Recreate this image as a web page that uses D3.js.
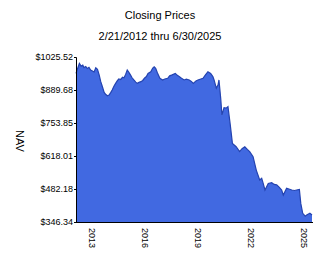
<!DOCTYPE html>
<html>
<head>
<meta charset="utf-8">
<title>Closing Prices</title>
<script src="https://cdn.jsdelivr.net/npm/d3@7"></script>
<style>
	body, html { margin: 0; padding: 0; background: #fff; }
	svg text { font-family: "Liberation Sans", Arial, sans-serif; fill: #000; }
</style>
</head>
<body>
<svg id="chart" width="324" height="267"></svg>
<script>

	var titleText = "Closing Prices",
		subtitleText = "2/21/2012 thru 6/30/2025",
		yLabel = "NAV";

	var yTicks = [346.34, 482.18, 618.01, 753.85, 889.68, 1025.52];
	var xTickYears = [2013, 2016, 2019, 2022, 2025];

	// closing prices
	var dates = [
		"2012-02-21","2012-03-15","2012-05-01","2012-06-05","2012-07-10","2012-08-05","2012-09-10","2012-10-12",
		"2012-11-15","2012-12-20","2013-01-25","2013-03-01","2013-04-05","2013-05-10","2013-06-15","2013-07-15",
		"2013-08-20","2013-09-25","2013-10-25","2013-12-01","2014-01-05","2014-02-10","2014-03-10","2014-04-15",
		"2014-05-20","2014-06-25","2014-07-25","2014-09-01","2014-10-10","2014-11-10","2014-12-15","2015-01-15",
		"2015-02-15","2015-03-25","2015-04-25","2015-06-01","2015-07-10","2015-08-10","2015-09-15","2015-10-25",
		"2015-12-01","2016-01-05","2016-02-15","2016-03-20","2016-05-15","2016-06-25","2016-07-25","2016-08-25",
		"2016-10-01","2016-11-20","2017-01-15","2017-03-01","2017-04-30","2017-06-10","2017-08-01","2017-10-05",
		"2017-11-15","2017-12-30","2018-02-10","2018-04-05","2018-05-20","2018-07-20","2018-09-01","2018-10-12",
		"2018-12-05","2019-01-15","2019-03-01","2019-04-30","2019-06-20","2019-08-10","2019-10-05","2019-11-20",
		"2019-12-15","2020-01-30","2020-03-05","2020-03-25","2020-04-30","2020-05-25","2020-07-08","2020-08-20",
		"2020-09-27","2020-11-10","2020-12-28","2021-03-15","2021-05-25","2021-07-15","2021-09-10","2021-11-01",
		"2021-12-20","2022-02-28","2022-05-05","2022-07-15","2022-08-25","2022-09-25","2022-11-01","2023-01-08",
		"2023-03-20","2023-05-10","2023-07-01","2023-08-20","2023-10-12","2023-11-15","2024-01-22","2024-03-10",
		"2024-05-08","2024-07-01","2024-08-15","2024-10-12","2024-11-10","2024-12-20","2025-02-10","2025-03-12",
		"2025-05-18","2025-06-30"
	];
	var prices = [
		958, 972, 999, 988, 992, 982, 986, 978,
		983, 972, 968, 964, 981, 975, 951, 925,
		903, 880, 872, 866, 869, 880, 890, 905,
		917, 928, 935, 933, 942, 940, 955, 972,
		963, 951, 940, 931, 922, 917, 921, 924,
		929, 938, 945, 958, 965, 980, 985, 979,
		960, 938, 931, 935, 938, 948, 952, 958,
		950, 944, 938, 931, 934, 931, 925, 917,
		927, 931, 934, 938, 952, 965, 958, 945,
		931, 897, 910, 931, 855, 787, 817, 815,
		821, 752, 670, 656, 636, 648, 656, 645,
		636, 615, 560, 519, 526, 505, 478, 505,
		508, 501, 499, 490, 478, 457, 485, 482,
		478, 476, 478, 480, 423, 382, 370, 375,
		382, 375
	];

	var parse = d3.timeParse("%Y-%m-%d");
	var data = dates.map(function(d, i) {
		return { date: parse(d), value: prices[i] };
	});

	var plotLeft = 76, plotRight = 312, plotTop = 57, plotBottom = 222;

	var svg = d3.select("#chart");

	var x = d3.scaleTime()
		.domain([parse("2012-02-21"), parse("2025-06-30")])
		.range([plotLeft, plotRight]);

	var y = d3.scaleLinear()
		.domain([yTicks[0], yTicks[yTicks.length - 1]])
		.range([plotBottom, plotTop]);

	var area = d3.area()
		.x(function(d) { return x(d.date); })
		.y0(plotBottom)
		.y1(function(d) { return y(d.value); });

	var line = d3.line()
		.x(function(d) { return x(d.date); })
		.y(function(d) { return y(d.value); });

	svg.append("path")
		.datum(data)
		.attr("d", area)
		.attr("fill", "#4169e1");

	svg.append("path")
		.datum(data)
		.attr("d", line)
		.attr("fill", "none")
		.attr("stroke", "#2443b0")
		.attr("stroke-width", 1.2);

	// y axis
	var yAxis = svg.append("g")
		.attr("transform", "translate(" + plotLeft + ",0)")
		.call(d3.axisLeft(y).tickValues(yTicks).tickSize(2).tickPadding(1)
			.tickFormat(function(d) { return "$" + d.toFixed(2); }));
	yAxis.selectAll("text").style("font-size", "9px");
	yAxis.select(".domain").attr("stroke", "#000");

	// x axis
	var xAxis = svg.append("g")
		.attr("transform", "translate(0," + plotBottom + ")")
		.call(d3.axisBottom(x)
			.tickValues(xTickYears.map(function(yr) { return new Date(yr, 0, 1); }))
			.tickSize(0)
			.tickFormat(d3.timeFormat("%Y")));
	xAxis.select(".domain").attr("stroke", "#000").attr("d", "M" + plotLeft + ",0.5H" + (plotRight + 1));
	xAxis.selectAll("text")
		.style("font-size", "9px")
		.attr("text-anchor", "start")
		.attr("dy", "0.35em")
		.attr("y", 0)
		.attr("transform", "translate(0,6) rotate(90)");

	// titles
	svg.append("text")
		.attr("x", 160).attr("y", 19)
		.attr("text-anchor", "middle")
		.style("font-size", "11px")
		.text(titleText);

	svg.append("text")
		.attr("x", 160).attr("y", 40)
		.attr("text-anchor", "middle")
		.style("font-size", "11px")
		.text(subtitleText);

	svg.append("text")
		.attr("transform", "translate(16,141) rotate(90)")
		.attr("text-anchor", "middle")
		.style("font-size", "11px")
		.text(yLabel);

</script>
</body>
</html>
